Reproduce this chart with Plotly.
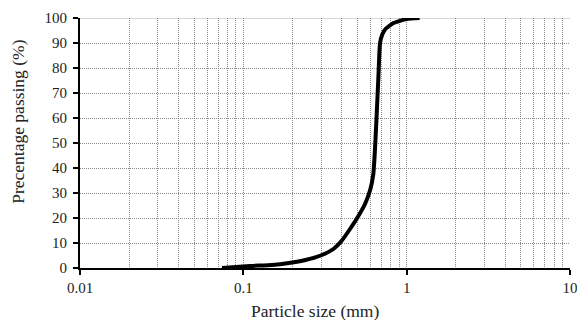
import plotly.graph_objects as go

# Grain-size distribution curve
particle_size_mm = [0.074, 0.11, 0.15, 0.19, 0.24, 0.295, 0.356, 0.40, 0.45, 0.50,
                    0.556, 0.60, 0.625, 0.634, 0.645, 0.658, 0.672, 0.687, 0.71, 0.74,
                    0.83, 1.0, 1.2]
percent_passing = [0, 0.8, 1.2, 2.0, 3.2, 4.9, 7.6, 10.9, 15.6, 20.2,
                   25.6, 31.6, 37.6, 43, 52, 64, 77, 90, 93.5, 95.5,
                   98, 99.6, 100]

x_tick_vals = [0.01, 0.1, 1, 10]
x_tick_text = ["0.01", "0.1", "1", "10"]
y_tick_vals = list(range(0, 101, 10))

FONT = "Liberation Serif, Times New Roman, Times, serif"
GRID = "#8c8c8c"
DOTS = "1px,1px"

fig = go.Figure()
fig.add_trace(go.Scatter(
    x=particle_size_mm, y=percent_passing, mode="lines",
    line=dict(color="black", width=4, shape="spline", smoothing=0.5),
    showlegend=False, hoverinfo="skip",
))

fig.update_layout(
    width=577, height=320,
    margin=dict(l=80, r=7, t=18, b=52),
    paper_bgcolor="white", plot_bgcolor="white",
    font=dict(family=FONT, size=15, color="#222222"),
    xaxis=dict(
        type="log", range=[-2, 1], automargin=False,
        tickvals=x_tick_vals, ticktext=x_tick_text,
        ticks="outside", ticklen=5, tickwidth=2, tickcolor="black",
        tickfont=dict(family=FONT, size=15),
        ticklabeloverflow="allow",
        showline=True, linecolor="black", linewidth=2,
        showgrid=True, gridcolor=GRID, griddash=DOTS, gridwidth=1,
        minor=dict(dtick="D1", showgrid=True, gridcolor=GRID,
                   griddash=DOTS, gridwidth=1, ticks=""),
        zeroline=False, fixedrange=True,
    ),
    yaxis=dict(
        range=[0, 100], tickvals=y_tick_vals, automargin=False,
        ticks="outside", ticklen=5, tickwidth=2, tickcolor="black",
        tickfont=dict(family=FONT, size=15), ticklabelstandoff=3,
        showline=True, linecolor="black", linewidth=2,
        showgrid=True, gridcolor=GRID, griddash=DOTS, gridwidth=1,
        zeroline=False, fixedrange=True,
    ),
    shapes=[dict(type="line", xref="paper", yref="y", x0=0, x1=1, y0=100, y1=100,
                 line=dict(color="#c8c8c8", width=1.5), layer="below")],
    annotations=[
        dict(text="Particle size (mm)", xref="paper", yref="paper",
             x=0.479, y=-0.125, xanchor="center", yanchor="top",
             showarrow=False, font=dict(family=FONT, size=17.5)),
        dict(text="Precentage passing (%)", xref="paper", yref="paper",
             x=-0.127, y=0.584, xanchor="center", yanchor="middle", textangle=-90,
             showarrow=False, font=dict(family=FONT, size=17.5)),
    ],
)

fig.write_html("out.html")
